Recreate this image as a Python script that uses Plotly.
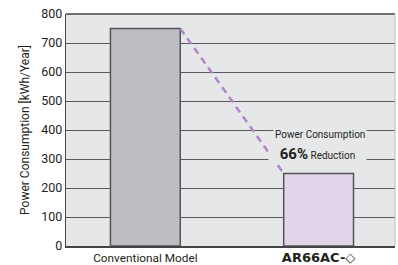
import plotly.graph_objects as go

categories = ["Conventional Model", "AR66AC-◇"]
values = [750, 250]
positions = [0, 1]
tick_vals = [0, 100, 200, 300, 400, 500, 600, 700, 800]
bar_width = 0.403

FONT = "Roboto, Liberation Sans, sans-serif"
BG = "#e6e7e9"

fig = go.Figure()
fig.add_trace(go.Bar(
    x=positions, y=values, width=bar_width,
    marker=dict(color=["#bcbdc1", "#e3d6eb"], line=dict(color="#555555", width=1.5)),
    hoverinfo="skip", showlegend=False,
))
fig.add_trace(go.Scatter(
    x=[positions[0] + bar_width / 2, positions[1] - bar_width / 2],
    y=[values[0], values[1]],
    mode="lines", line=dict(color="#b585c9", width=2.5, dash="7px,5px"),
    hoverinfo="skip", showlegend=False,
))

ticktext = [
    categories[0],
    '<span style="font-family:DejaVu Sans;font-weight:bold;font-size:13px">' + categories[1] + '</span>',
]

fig.update_layout(
    width=398, height=265,
    margin=dict(l=65.5, r=3, t=14, b=19),
    paper_bgcolor="white", plot_bgcolor=BG,
    font=dict(family=FONT, size=12.5, color="#231f20"),
    xaxis=dict(
        range=[-0.458, 1.441], tickvals=positions, ticktext=ticktext, automargin=False,
        showgrid=False, zeroline=False, showline=True, linecolor="#444444", linewidth=2,
        ticks="", tickfont=dict(size=11.8, family=FONT), ticklabeloverflow="allow",
    ),
    yaxis=dict(
        range=[0, 800], tickvals=tick_vals, showgrid=True, gridcolor="#58595b", gridwidth=1.4,
        zeroline=False, showline=True, linecolor="#444444", linewidth=1.4, automargin=False,
        ticks="", tickfont=dict(size=12.5, family=FONT), ticklabeloverflow="allow",
        title=dict(text="Power Consumption [kWh/Year]", font=dict(size=12, family=FONT), standoff=9),
    ),
    shapes=[
        dict(type="line", xref="paper", yref="paper", x0=0, x1=1, y0=1, y1=1,
             line=dict(color="#444444", width=1.4)),
        dict(type="line", xref="paper", yref="paper", x0=1, x1=1, y0=0, y1=1,
             line=dict(color="#bbbbbb", width=1)),
    ],
    annotations=[
        dict(x=positions[1], y=400, xref="x", yref="y", text="Power Consumption",
             showarrow=False, font=dict(size=10, family=FONT), bgcolor=BG,
             yshift=-4, borderpad=1, xshift=1),
        dict(x=positions[1], y=300, xref="x", yref="y",
             text='<span style="font-weight:bold;font-size:15px">66%</span> Reduction',
             showarrow=False, font=dict(size=10, family=FONT), bgcolor=BG,
             yshift=5, width=97, borderpad=0, xshift=-1),
    ],
)

# remove the browser's default 8px page margin so the figure fills the window exactly
fig.write_html("out.html", config={"displayModeBar": False},
               post_script="document.body.style.margin='0';")
